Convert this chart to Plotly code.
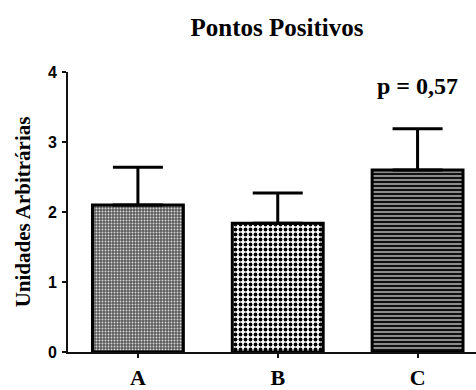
import plotly.graph_objects as go

categories = ["A", "B", "C"]
means = [2.10, 1.84, 2.60]
errors = [0.54, 0.43, 0.59]
y_ticks = [0, 1, 2, 3, 4]
title_text = "Pontos Positivos"
y_title = "Unidades Arbitrárias"
p_text = "p = 0,57"

patterns = [
    dict(shape=".", bgcolor="#5c5c5c", fgcolor="#d8d8d8", size=3, solidity=0.3, fillmode="replace"),
    dict(shape=".", bgcolor="#ffffff", fgcolor="#000000", size=5, solidity=0.45, fillmode="replace"),
    dict(shape="-", bgcolor="#8c8c8c", fgcolor="#111111", size=4, solidity=0.5, fillmode="replace"),
]

fig = go.Figure()
for i, cat in enumerate(categories):
    fig.add_trace(go.Bar(
        x=[cat], y=[means[i]],
        width=0.65,
        marker=dict(color="#ffffff", pattern=patterns[i], line=dict(color="#000000", width=3)),
        error_y=dict(type="data", symmetric=False, array=[errors[i]], arrayminus=[0],
                     color="#000000", thickness=3, width=25),
        showlegend=False,
    ))

fig.add_annotation(x="C", y=3.8, text=p_text, showarrow=False, xanchor="center", yanchor="middle",
                   font=dict(family="Liberation Serif", size=24, color="#000000", weight="bold"))

fig.update_layout(
    width=476, height=390,
    margin=dict(l=68, r=0, t=72, b=38, autoexpand=False),
    paper_bgcolor="#ffffff", plot_bgcolor="#ffffff",
    barmode="overlay",
    title=dict(text=title_text, x=277/476, xanchor="center", xref="container", y=1 - 27/390, yref="container",
               yanchor="middle", font=dict(family="Liberation Serif", size=25, color="#000000", weight="bold")),
    xaxis=dict(range=[-0.5, (476 - 137.5) / 140], showline=True, linecolor="#111111", linewidth=2,
               ticks="outside", ticklen=4, tickwidth=2, tickcolor="#111111", showgrid=False, zeroline=False,
               tickfont=dict(family="Liberation Serif", size=22, color="#000000", weight="bold"),
               ticklabelstandoff=1),
    yaxis=dict(range=[0, 4], tickvals=y_ticks, showline=True, linecolor="#111111", linewidth=2,
               ticks="outside", ticklen=4, tickwidth=2, tickcolor="#111111", showgrid=False, zeroline=False,
               tickfont=dict(family="Liberation Sans", size=16, color="#000000", weight="bold"),
               ticklabelstandoff=2,
               title=dict(text=y_title, standoff=12,
                          font=dict(family="Liberation Serif", size=21, color="#000000", weight="bold"))),
)

fig.write_html("out.html", config={"displayModeBar": False},
               post_script="document.body.style.margin='0';document.body.style.overflow='hidden';")
